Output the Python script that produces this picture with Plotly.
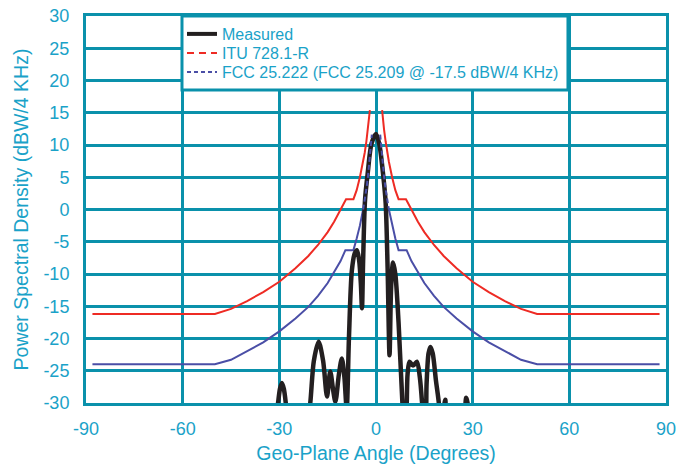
import plotly.graph_objects as go

# ---- data ----
itu_x = [-88, -50, -45, -40, -35, -30, -25, -21, -18, -15, -13, -11, -9.3, -7.0, -6, -5, -4, -3.5, -3, -2.5, -2.1, -1.9,
         None,
         1.9, 2.1, 2.5, 3, 3.5, 4, 5, 6, 7.0, 9.3, 11, 13, 15, 18, 21, 25, 30, 35, 40, 45, 50, 88]
itu_y = [-16.2, -16.2, -15.4, -14.2, -12.8, -11.2, -9.1, -7.2, -5.5, -3.5, -1.9, 0.0, 1.6, 1.6, 3.0, 5.0, 7.4, 8.8, 10.5, 12.4, 14.2, 15.4,
         None,
         15.4, 14.2, 12.4, 10.5, 8.8, 7.4, 5.0, 3.0, 1.6, 1.6, 0.0, -1.9, -3.5, -5.5, -7.2, -9.1, -11.2, -12.8, -14.2, -15.4, -16.2, -16.2]

fcc_x = [-88, -50, -45, -40, -35, -30, -25, -21, -18, -15, -13, -11, -9.5, -7.0, -6, -5, -4,
         None,
         4, 5, 6, 7.0, 9.5, 11, 13, 15, 18, 21, 25, 30, 35, 40, 45, 50, 88]
fcc_y = [-24.0, -24.0, -23.3, -22.0, -20.6, -18.9, -16.9, -15.1, -13.4, -11.4, -9.8, -8.0, -6.3, -6.3, -4.5, -2.5, 0.0,
         None,
         0.0, -2.5, -4.5, -6.3, -6.3, -8.0, -9.8, -11.4, -13.4, -15.1, -16.9, -18.9, -20.6, -22.0, -23.3, -24.0, -24.0]

fcc_inner_x = [-4, -3.5, -3, -2.5, -2, -1.7, -1.3, None, 1.3, 1.7, 2, 2.5, 3, 3.5, 4]
fcc_inner_y = [0.0, 1.4, 3.1, 5.1, 7.5, 9.2, 11.6, None, 11.6, 9.2, 7.5, 5.1, 3.1, 1.4, 0.0]

meas_x = [-31.5, -30.4, -29.8, -29.2, -28.6, -28.0, -27.3,
          -21.5, -20.4, -19.3, -17.8, -16.4, -15.2, -14.2, -13.3, -12.6,
          -11.5, -10.6, -9.8, -9.1,
          -8.4, -7.5, -6.6, -5.9, -5.2, -4.7, -4.35,
          -4.0, -3.4, -2.6, -1.4, 0.0, 1.0, 2.3, 3.0, 3.6, 4.2,
          4.7, 5.3, 6.0, 7.0, 8.2, 8.8,
          9.1, 9.8, 10.4, 11.5, 12.7, 13.6, 14.3, 14.8,
          15.2, 15.7, 16.3, 16.9, 17.6, 18.6, 19.5, 20.0,
          20.8, 21.5, 22.2,
          27.0, 28.0, 29.0]
meas_y = [-34, -30.0, -27.8, -26.9, -27.8, -30.0, -34,
          -34, -30.0, -23.5, -20.5, -23.5, -29.0, -25.1, -28.0, -29.8,
          -25.5, -23.1, -26.0, -31.0,
          -20.0, -9.5, -6.8, -6.3, -8.0, -11.5, -15.3,
          -8.0, 1.5, 5.5, 10.2, 11.7, 10.2, 5.0, 1.0, -9.0, -22.6,
          -12.0, -8.2, -10.0, -17.5, -30.0, -34,
          -34, -25.5, -23.6, -24.2, -23.6, -26.0, -30.0, -34,
          -34, -27.0, -22.3, -21.3, -22.3, -26.5, -30.0, -34,
          -32, -29.5, -32,
          -32, -29.2, -32]

series_names = ["Measured", "ITU 728.1-R", "FCC 25.222 (FCC 25.209 @ -17.5 dBW/4 KHz)"]

x_ticks = [-90, -60, -30, 0, 30, 60, 90]
y_ticks = [-30, -25, -20, -15, -10, -5, 0, 5, 10, 15, 20, 25, 30]

GRID = "#0a91ab"
TEXT = "#1aa2c8"
RED = "#ee2b24"
BLUE = "#4a4ea6"
BLACK = "#231f20"
FONT = "Liberation Sans"

fig = go.Figure()
fig.add_trace(go.Scatter(x=itu_x, y=itu_y, mode="lines", line=dict(color=RED, width=2), showlegend=False))
fig.add_trace(go.Scatter(x=fcc_x, y=fcc_y, mode="lines", line=dict(color=BLUE, width=2), showlegend=False))
fig.add_trace(go.Scatter(x=meas_x, y=meas_y, mode="lines", line=dict(color=BLACK, width=4.5, shape="spline", smoothing=0.8),
                         showlegend=False))
fig.add_trace(go.Scatter(x=fcc_inner_x, y=fcc_inner_y, mode="lines", line=dict(color=BLUE, width=2, dash="5px,3px"),
                         showlegend=False))

# legend entries (one legend per entry so the row spacing matches)
fig.add_trace(go.Scatter(x=[None], y=[None], mode="lines", name=series_names[0],
                         line=dict(color=BLACK, width=4), legend="legend"))
fig.add_trace(go.Scatter(x=[None], y=[None], mode="lines", name=series_names[1],
                         line=dict(color=RED, width=2, dash="7px,5px"), legend="legend2"))
fig.add_trace(go.Scatter(x=[None], y=[None], mode="lines", name=series_names[2],
                         line=dict(color=BLUE, width=2, dash="4px,3px"), legend="legend3"))

leg_common = dict(x=0.1655, xanchor="left", yanchor="middle", bgcolor="rgba(0,0,0,0)",
                  borderwidth=0, font=dict(size=16, color=TEXT, family=FONT), itemwidth=30)

fig.update_layout(
    width=686, height=465,
    margin=dict(l=86, r=20, t=16, b=62),
    paper_bgcolor="white", plot_bgcolor="white",
    font=dict(family=FONT, size=18, color=TEXT),
    legend=dict(y=0.9535, **leg_common),
    legend2=dict(y=0.9044, **leg_common),
    legend3=dict(y=0.8553, **leg_common),
    shapes=[dict(type="rect", xref="paper", yref="paper", x0=0.1655, x1=0.831, y0=0.8088, y1=1.0,
                 fillcolor="white", line=dict(color=GRID, width=3), layer="above")],
)
fig.update_xaxes(range=[-90, 90], tickvals=x_ticks, ticktext=[str(v) for v in x_ticks],
                 showgrid=True, gridcolor=GRID, gridwidth=3, zeroline=False,
                 showline=True, linecolor=GRID, linewidth=3, mirror=True,
                 ticks="", ticklabelstandoff=7, automargin=False, ticklabeloverflow="allow",
                 title=dict(text="Geo-Plane Angle (Degrees)", standoff=9, font=dict(size=19.5, color=TEXT)))
fig.update_yaxes(range=[-30, 30], tickvals=y_ticks, ticktext=[str(v) for v in y_ticks],
                 showgrid=True, gridcolor=GRID, gridwidth=3, zeroline=False,
                 showline=True, linecolor=GRID, linewidth=3, mirror=True,
                 ticks="", ticklabelstandoff=10, automargin=False, ticklabeloverflow="allow",
                 title=dict(text="Power Spectral Density (dBW/4 KHz)", standoff=10, font=dict(size=19.5, color=TEXT)))

fig.write_html("out.html", config={"displayModeBar": False},
               post_script="document.body.style.margin='0px';")
